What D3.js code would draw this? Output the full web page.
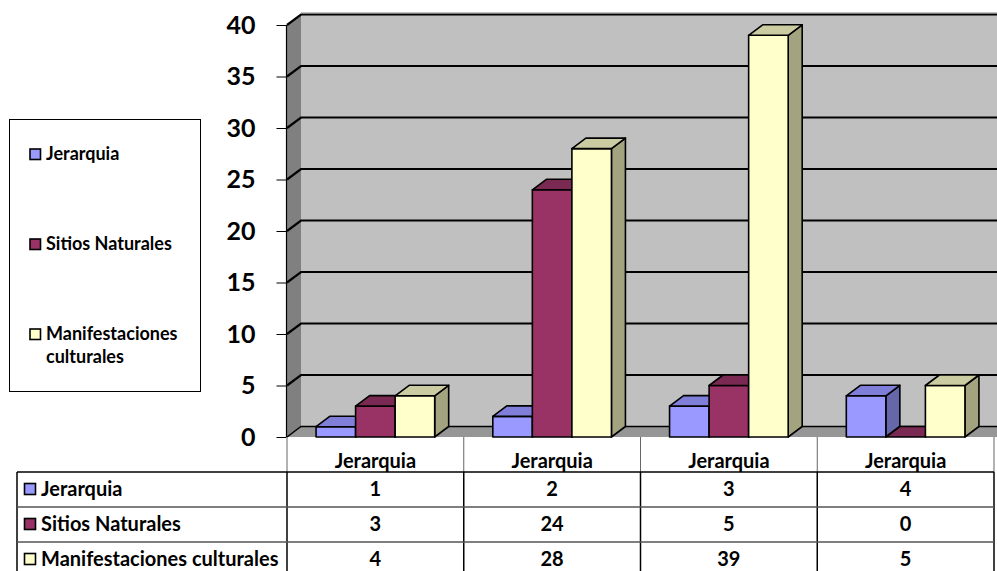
<!DOCTYPE html>
<html><head><meta charset="utf-8">
<script src="https://cdn.jsdelivr.net/npm/d3@7"></script>
<style>body{margin:0;background:#fff}svg{display:block;font-family:Lato,"Open Sans",sans-serif;font-weight:bold}</style>
</head><body><svg id="c" width="997" height="571"></svg>
<script>
const categories = ["Jerarquia","Jerarquia","Jerarquia","Jerarquia"];
const seriesNames = ["Jerarquia","Sitios Naturales","Manifestaciones culturales"];
const jerarquia = [1,2,3,4];
const sitiosNaturales = [3,24,5,0];
const manifestaciones = [4,28,39,5];
const yTicks = [0,5,10,15,20,25,30,35,40];
const seriesValues = [jerarquia, sitiosNaturales, manifestaciones];
const colors = [
  {front:"#9999FF", top:"#7F7FD9", side:"#6666AA"},
  {front:"#993366", top:"#7A2952", side:"#6B2447"},
  {front:"#FFFFCC", top:"#CCCCA3", side:"#A3A37F"}
];

const svg = d3.select("#c");
const X0 = 287, X1 = 994, Y0 = 437, YT = 25;
const DX = 14, DY = -10.5;
const y = d3.scaleLinear().domain([0,40]).range([Y0, YT]);
const idx = categories.map((d,i)=>i);
const x0 = d3.scaleBand().domain(idx).range([X0, X1]).padding(0);
const x1 = d3.scaleBand().domain(d3.range(seriesNames.length)).range([0, x0.bandwidth()]).paddingInner(0).paddingOuter(0.735);
const poly = pts => pts.map(p=>p.join(",")).join(" ");

// back wall
svg.append("polygon").attr("points", poly([[X0+DX,y(40)+DY],[X1+DX+20,y(40)+DY],[X1+DX+20,Y0+DY],[X0+DX,Y0+DY]])).attr("fill","#C0C0C0");
// side wall
svg.append("polygon").attr("points", poly([[X0,y(40)],[X0+DX,y(40)+DY],[X0+DX,Y0+DY],[X0,Y0]])).attr("fill","#808080");
// floor
svg.append("polygon").attr("points", poly([[X0,Y0],[X1+20,Y0],[X1+DX+20,Y0+DY],[X0+DX,Y0+DY]])).attr("fill","#969696");
// gridlines
const g = svg.append("g");
yTicks.forEach(v=>{
  g.append("polyline").attr("points", poly([[X0,y(v)],[X0+DX,y(v)+DY],[X1+DX+20,y(v)+DY]]))
   .attr("fill","none").attr("stroke","#000").attr("stroke-width", v===0?1.5:2.2);
});
svg.append("line").attr("x1",X0+DX).attr("x2",X1+DX+20).attr("y1",y(40)+DY-1.5).attr("y2",y(40)+DY-1.5).attr("stroke","#808080").attr("stroke-width",1);

// bars
idx.forEach(ci=>{
  seriesValues.forEach((vals,si)=>{
    const v = vals[ci];
    const xl = x0(ci) + x1(si), xr = xl + x1.bandwidth();
    const yt = y(v), yb = Y0;
    const c = colors[si];
    const bg = svg.append("g").attr("stroke","#000").attr("stroke-width",1.6).attr("stroke-linejoin","round");
    if (v > 0) {
      bg.append("polygon").attr("points", poly([[xr,yb],[xr+DX,yb+DY],[xr+DX,yt+DY],[xr,yt]])).attr("fill",c.side);
      bg.append("rect").attr("x",xl).attr("y",yt).attr("width",xr-xl).attr("height",yb-yt).attr("fill",c.front);
    }
    bg.append("polygon").attr("points", poly([[xl,yt],[xr,yt],[xr+DX,yt+DY],[xl+DX,yt+DY]])).attr("fill",c.top);
  });
});

// y axis
svg.append("line").attr("x1",X0-0.5).attr("x2",X0-0.5).attr("y1",y(40)).attr("y2",Y0).attr("stroke","#000").attr("stroke-width",1.2);
const yAxis = d3.axisLeft(y).tickValues(yTicks).tickSize(10).tickPadding(21).tickFormat(d3.format("d"));
const ya = svg.append("g").attr("transform",`translate(${X0-0.5},0)`).call(yAxis);
ya.select(".domain").remove();
ya.selectAll("line").attr("stroke","#000").attr("stroke-width",1);
ya.selectAll("text").attr("font-size",25).attr("font-weight","bold").attr("font-family","Lato,'Open Sans',sans-serif").attr("fill","#000");

// legend
svg.append("rect").attr("x",9.5).attr("y",119.5).attr("width",191).attr("height",272).attr("fill","#fff").attr("stroke","#000").attr("stroke-width",1);
const legY = [154, 244, 334];
seriesNames.forEach((n,i)=>{
  svg.append("rect").attr("x",30).attr("y",legY[i]-5).attr("width",10.5).attr("height",10.5).attr("fill",colors[i].front).attr("stroke","#000").attr("stroke-width",1.6);
  const t = svg.append("text").attr("x",46).attr("y",legY[i]+6).attr("font-size",18).attr("fill","#000");
  if (i===2) {
    t.append("tspan").attr("x",46).text("Manifestaciones");
    t.append("tspan").attr("x",46).attr("dy",23).text("culturales");
  } else t.text(n);
});

// data table
const tg = svg.append("g");
const rowTop = [437, 472, 507, 542, 577];
idx.forEach(ci=>{
  tg.append("text").attr("x",x0(ci)+x0.bandwidth()/2).attr("y",468).attr("text-anchor","middle").attr("font-size",20).text(categories[ci]);
});
x0.domain().concat([null]).forEach((ci,k)=>{
  const xx = k<categories.length ? x0(ci) : X1;
  tg.append("line").attr("x1",xx).attr("x2",xx).attr("y1",Y0).attr("y2",472).attr("stroke","#666").attr("stroke-width",1);
  tg.append("line").attr("x1",xx).attr("x2",xx).attr("y1",472).attr("y2",577).attr("stroke","#000").attr("stroke-width",1.5);
});
tg.append("line").attr("x1",17).attr("x2",17).attr("y1",472).attr("y2",577).attr("stroke","#000").attr("stroke-width",1.5);
[472,507,542].forEach((yy,k)=>{
  tg.append("line").attr("x1",17).attr("x2",X1).attr("y1",yy).attr("y2",yy).attr("stroke", k===0?"#000":"#555").attr("stroke-width",1.5);
});
seriesNames.forEach((n,si)=>{
  const cy = (rowTop[si+1]+rowTop[si+2])/2;
  tg.append("rect").attr("x",24.5).attr("y",cy-6).attr("width",11).attr("height",11).attr("fill",colors[si].front).attr("stroke","#000").attr("stroke-width",1.6);
  tg.append("text").attr("x",41).attr("y",cy+6).attr("font-size",20).text(n);
  seriesValues[si].forEach((v,ci)=>{
    tg.append("text").attr("x",x0(ci)+x0.bandwidth()/2).attr("y",cy+6).attr("text-anchor","middle").attr("font-size",20).text(v);
  });
});
</script></body></html>
